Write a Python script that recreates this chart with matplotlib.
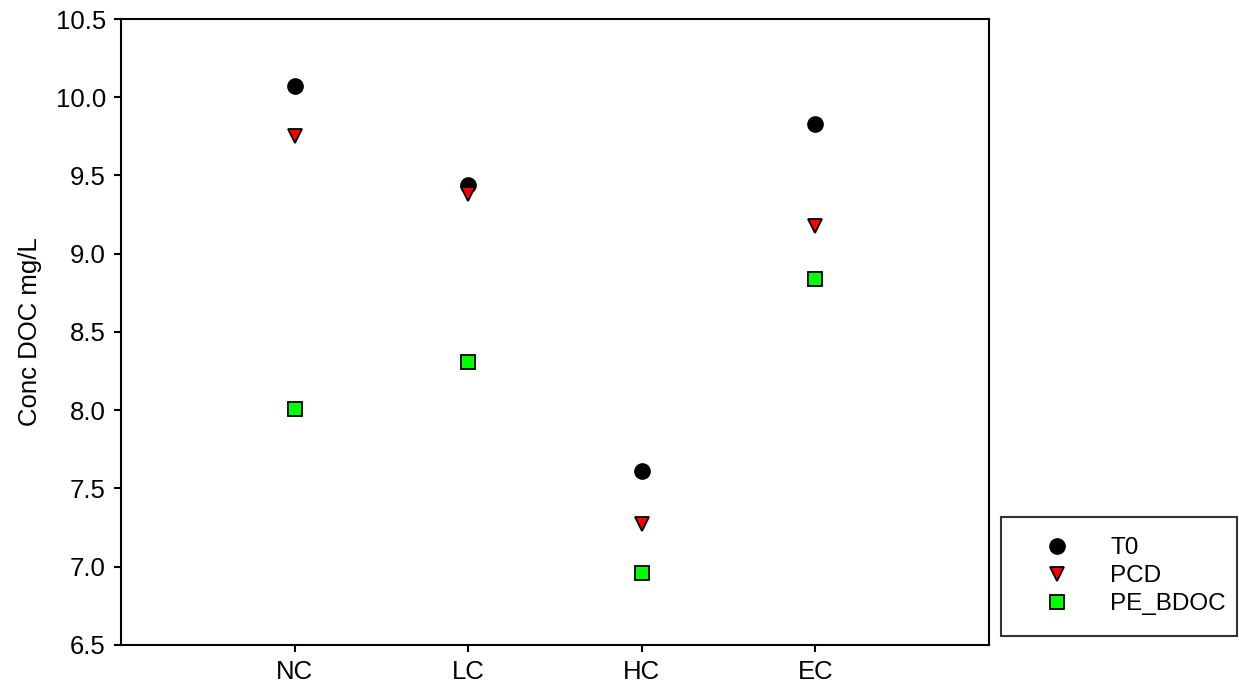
import matplotlib.pyplot as plt

plt.rcParams['font.family'] = ['Liberation Sans', 'DejaVu Sans']

categories = ['NC', 'LC', 'HC', 'EC']
t0 = [10.07, 9.44, 7.61, 9.83]
pcd = [9.75, 9.38, 7.27, 9.18]
pe_bdoc = [8.01, 8.31, 6.96, 8.84]

fig = plt.figure(figsize=(12.39, 6.96), dpi=100)
ax = fig.add_axes([0.0977, 0.0733, 0.7005, 0.8994])

xs = list(range(1, len(categories) + 1))
ax.plot(xs, t0, 'o', color='black', markersize=11, label='T0', zorder=3)
ax.plot(xs, pcd, 'v', markerfacecolor='red', markeredgecolor='black',
        markeredgewidth=1.3, markersize=10.5, label='PCD', zorder=3)
ax.plot(xs, pe_bdoc, 's', markerfacecolor='#00ff00', markeredgecolor='black',
        markeredgewidth=1.3, markersize=9.5, label='PE_BDOC', zorder=3)

ax.set_xlim(0, 5)
ax.set_ylim(6.5, 10.5)
ax.set_xticks(xs)
ax.set_xticklabels(categories)
ax.set_yticks([6.5, 7.0, 7.5, 8.0, 8.5, 9.0, 9.5, 10.0, 10.5])
ax.set_yticklabels(['%.1f' % v for v in ax.get_yticks()])
ax.tick_params(direction='out', length=5, width=1.5, labelsize=18.5, pad=6)
for s in ax.spines.values():
    s.set_linewidth(1.5)
ax.set_ylabel('Conc DOC mg/L', fontsize=18.5, labelpad=10)

leg = fig.legend(loc='lower left', bbox_to_anchor=(0.808, 0.086, 0.19, 0.175),
                 mode='expand', fontsize=17.5, frameon=True, fancybox=False,
                 handletextpad=0.75, borderpad=0.85, labelspacing=0.25,
                 handlelength=2.9, borderaxespad=0)
leg.get_frame().set_edgecolor('black')
leg.get_frame().set_linewidth(1.5)

fig.savefig('out.png', dpi=100)
